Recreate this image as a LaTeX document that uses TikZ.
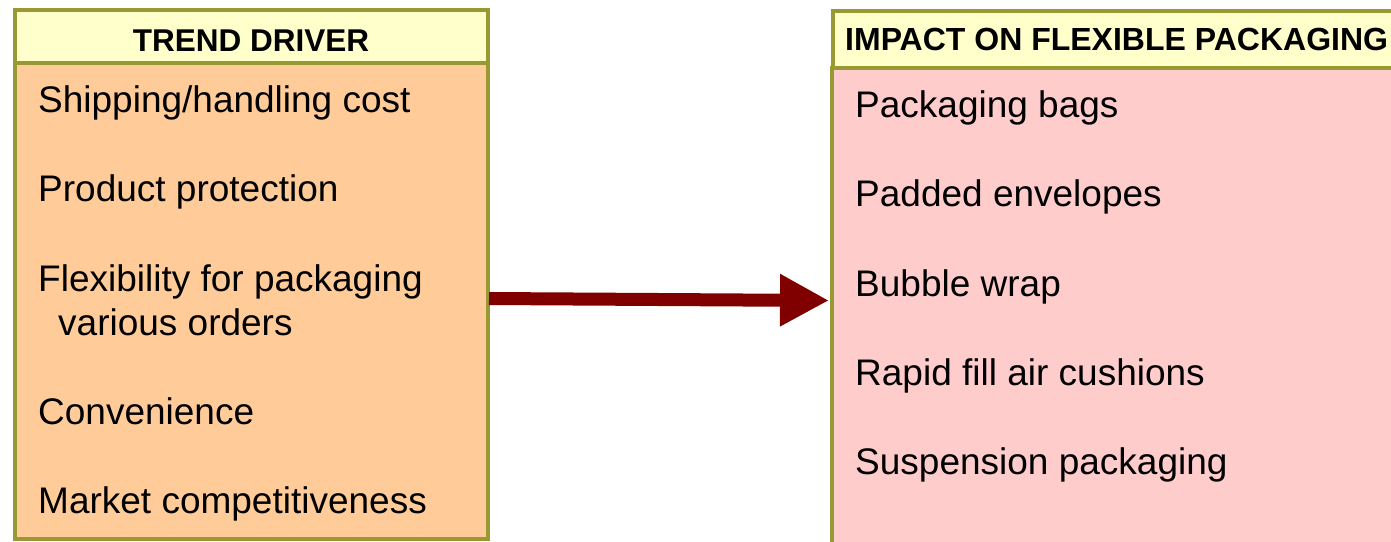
\documentclass[tikz,border=0pt]{standalone}
\usepackage{fontspec}
\setmainfont{Liberation Sans}
\usetikzlibrary{arrows.meta}
\definecolor{olive}{HTML}{999933}
\definecolor{hdrfill}{HTML}{FFFFCC}
\definecolor{lfill}{HTML}{FFCC99}
\definecolor{rfill}{HTML}{FFCCCC}
\definecolor{arrowred}{HTML}{800000}
\tikzset{
  panel/.style={draw=olive, line width=4pt},
  hdr/.style={font=\fontsize{31.5}{36}\selectfont\bfseries, inner sep=0pt},
  item/.style={font=\fontsize{37}{44}\selectfont, inner sep=0pt, anchor=base west},
  bigarrow/.style={draw=arrowred, line width=13pt, -{Triangle[length=49pt,width=49pt]}}
}
\begin{document}
\begin{tikzpicture}[x=1pt,y=-1pt]
\path[use as bounding box, clip] (0,0) rectangle (1391,541);
\fill[white] (0,0) rectangle (1391,541);
% left panel
\draw[panel, fill=lfill] (14.5,62.5) rectangle (487.5,538.5);
\draw[panel, fill=hdrfill] (15,10) rectangle (487.5,62.5);
% right panel
\draw[panel, fill=rfill] (832,67.5) rectangle (1400,560);
\draw[panel, fill=hdrfill] (832.5,10.5) rectangle (1400,67.5);
% headers
\node[hdr, anchor=base] (h1) at (251,51.5) {TREND DRIVER};
\node[hdr, anchor=base west, font=\fontsize{32}{36}\selectfont\bfseries] (h2) at (845,50.5) {IMPACT ON FLEXIBLE PACKAGING};
% left items
\node[item] (l1) at (38,112) {Shipping/handling cost};
\node[item] (l2) at (38,201) {Product protection};
\node[item] (l3) at (38,291) {Flexibility for packaging};
\node[item] (l3b) at (58,335) {various orders};
\node[item] (l4) at (38,424) {Convenience};
\node[item] (l5) at (38,513) {Market competitiveness};
% right items
\node[item] (r1) at (855,117) {Packaging bags};
\node[item] (r2) at (855,206) {Padded envelopes};
\node[item] (r3) at (855,296) {Bubble wrap};
\node[item] (r4) at (855,385) {Rapid fill air cushions};
\node[item] (r5) at (855,474) {Suspension packaging};
% arrow
\coordinate (a1) at (489,298.5);
\coordinate (a2) at (829,300.5);
\draw[bigarrow] (a1) -- (a2);
\end{tikzpicture}
\end{document}
